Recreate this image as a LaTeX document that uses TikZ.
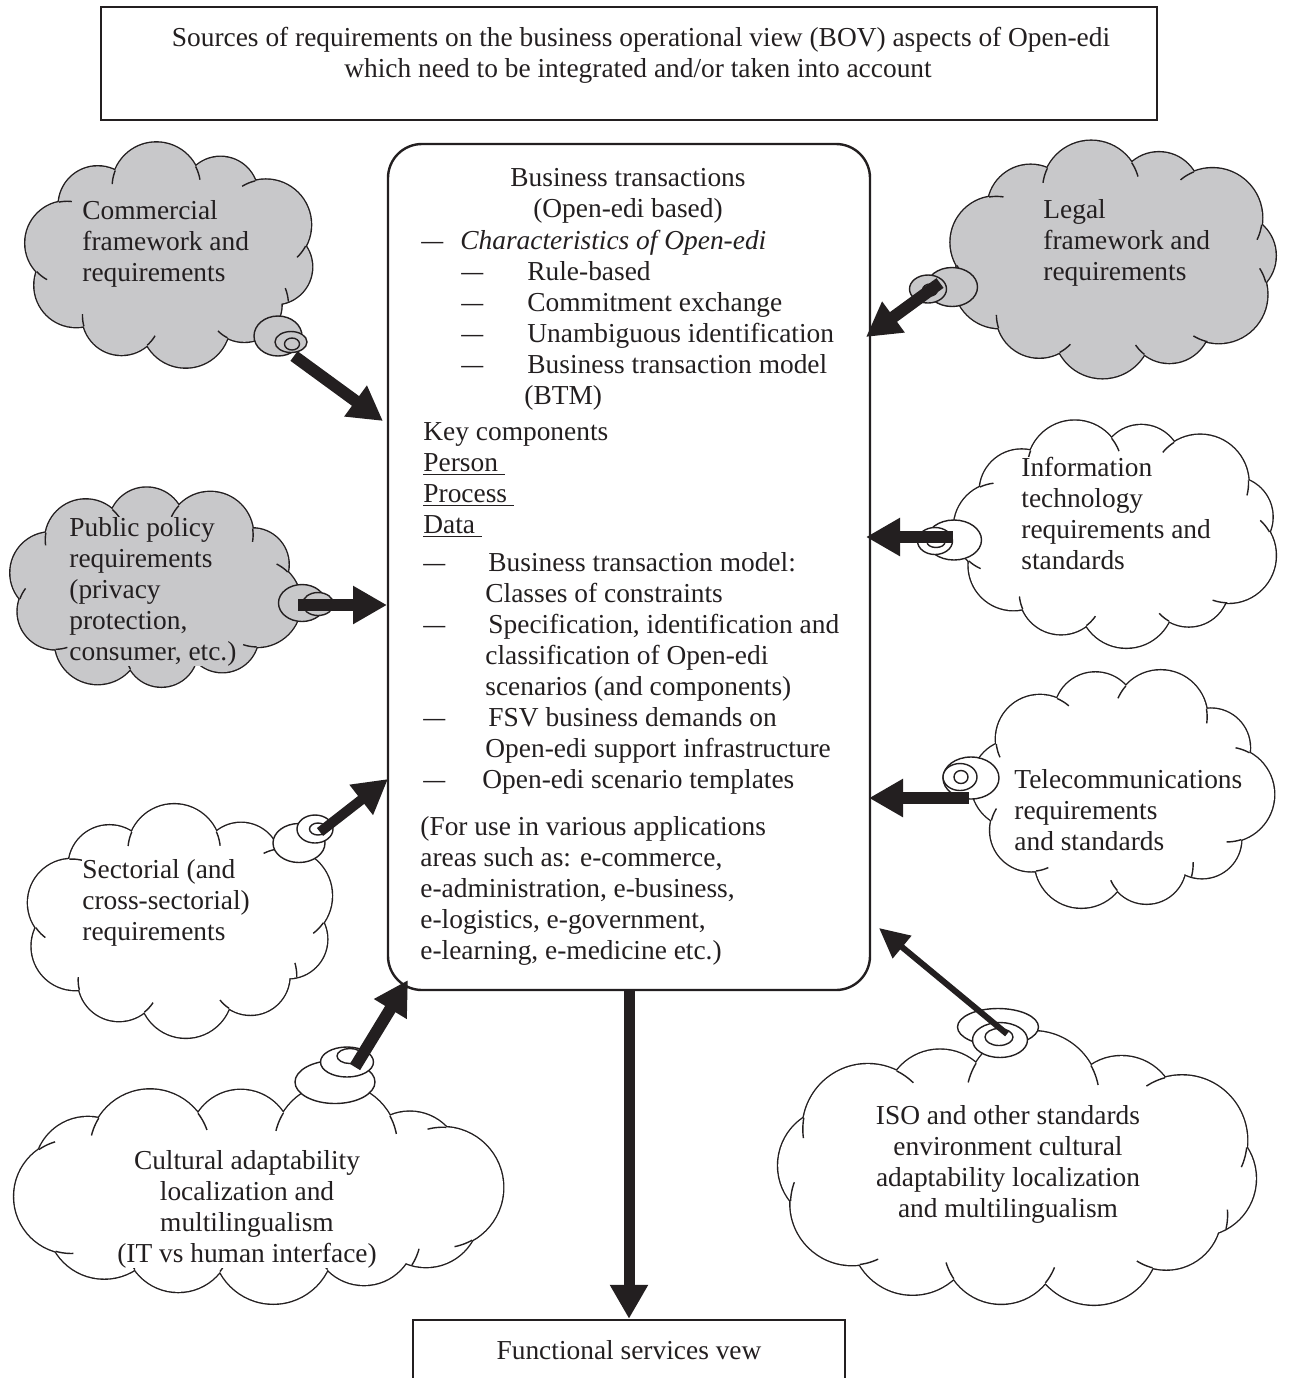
\documentclass[tikz,border=0pt]{standalone}
\usepackage{fontspec}
\setmainfont{Liberation Serif}
\usetikzlibrary{shapes.geometric,arrows.meta}
\definecolor{cloudgray}{RGB}{200,200,202}
\definecolor{ink}{RGB}{35,31,32}
\newcommand\myfs{\fontsize{13.7pt}{15.5pt}\selectfont}
\newcommand\dsh{\scalebox{0.8}[1]{—}}
% #1 cx, #2 cy, #3 w, #4 h, #5 fill, #6 N, #7 phase
\newcommand\puffcloud[7]{%
  \pgfmathsetmacro\pcr{0.16*(#3+#4)/2}%
  \pgfmathsetmacro\pca{#3/2-\pcr}%
  \pgfmathsetmacro\pcb{#4/2-\pcr}%
  \foreach \k in {1,...,#6}{%
    \pgfmathsetmacro\rk{\pcr*(1+0.1*cos(200*\k))}%
    \draw[ink,line width=1.4pt] ({#1+\pca*cos(#7+360*\k/#6)},{#2+\pcb*sin(#7+360*\k/#6)}) circle[radius=\rk];}%
  \foreach \k in {1,...,#6}{%
    \pgfmathsetmacro\rk{\pcr*(1+0.1*cos(200*\k))}%
    \fill[#5] ({#1+\pca*cos(#7+360*\k/#6)},{#2+\pcb*sin(#7+360*\k/#6)}) circle[radius=\rk];}%
  \fill[#5] (#1,#2) ellipse[x radius=\pca,y radius=\pcb];%
  % interior arc stubs at the puff junctions
  \foreach \k in {1,...,#6}{%
    \pgfmathsetmacro\xa{#1+\pca*cos(#7+360*\k/#6)}%
    \pgfmathsetmacro\ya{#2+\pcb*sin(#7+360*\k/#6)}%
    \pgfmathsetmacro\xb{#1+\pca*cos(#7+360*(\k+1)/#6)}%
    \pgfmathsetmacro\yb{#2+\pcb*sin(#7+360*(\k+1)/#6)}%
    \pgfmathsetmacro\ra{\pcr*(1+0.1*cos(200*\k))}%
    \pgfmathsetmacro\rb{\pcr*(1+0.1*cos(200*(\k+1)))}%
    \pgfmathsetmacro\dd{sqrt((\xb-\xa)^2+(\yb-\ya)^2)}%
    \pgfmathsetmacro\ph{atan2(\yb-\ya,\xb-\xa)}%
    \pgfmathtruncatemacro\odd{mod(\k,2)}%
    \ifnum\odd=1
      \pgfmathsetmacro\al{acos((\dd*\dd+\ra*\ra-\rb*\rb)/(2*\dd*\ra))}%
      \pgfmathsetmacro\sa{\ph-\al}%
      \pgfmathsetmacro\sb{\ph-\al+18}%
      \draw[ink,line width=0.7pt] plot[domain=\sa:\sb,samples=8,variable=\t] ({\xa+\ra*cos(\t)},{\ya+\ra*sin(\t)});
    \else
      \pgfmathsetmacro\al{acos((\dd*\dd+\rb*\rb-\ra*\ra)/(2*\dd*\rb))}%
      \pgfmathsetmacro\sa{\ph+180+\al}%
      \pgfmathsetmacro\sb{\ph+180+\al-18}%
      \draw[ink,line width=0.7pt] plot[domain=\sb:\sa,samples=8,variable=\t] ({\xb+\rb*cos(\t)},{\yb+\rb*sin(\t)});
    \fi}%
}
\begin{document}
\begin{tikzpicture}[x=0.5pt,y=-0.5pt,font=\myfs,
  txt/.style={inner sep=0pt,anchor=base west,text=ink},
  ctxt/.style={inner sep=0pt,anchor=base,text=ink},
  gtxt/.style={txt,fill=cloudgray},
  wtxt/.style={txt,fill=white},
  wctxt/.style={ctxt,fill=white},
  bubg/.style={ellipse,draw=ink,line width=0.7pt,inner sep=0pt,fill=cloudgray},
  bubw/.style={ellipse,draw=ink,line width=0.7pt,inner sep=0pt,fill=white},
  arr/.style={draw=ink,line width=6pt,-{Triangle[length=17pt,width=18pt]}},
  arrthin/.style={draw=ink,line width=3pt,-{Triangle[length=15pt,width=14pt]}},
  boxst/.style={draw=ink,line width=1.2pt,inner sep=0pt}]
\useasboundingbox (0,0) rectangle (1290,1378);

% top box
\node[boxst,minimum width=528pt,minimum height=56.5pt] (top) at (629,63.5) {};
\node[ctxt] (top1) at (641,46) {Sources of requirements on the business operational view (BOV) aspects of Open-edi};
\node[ctxt] (top2) at (638,77) {which need to be integrated and/or taken into account};

% clouds
\puffcloud{171}{255}{293}{220}{cloudgray}{10}{10}
\puffcloud{1114}{259}{332}{232}{cloudgray}{11}{30}
\puffcloud{154}{588}{292}{205}{cloudgray}{10}{50}
\puffcloud{1117}{532}{325}{225}{white}{11}{20}
\puffcloud{1121}{789}{298}{242}{white}{10}{40}
\puffcloud{180}{921}{310}{227}{white}{10}{15}
\puffcloud{257}{1192}{485}{215}{white}{12}{25}
\puffcloud{1017}{1172}{485}{270}{white}{12}{5}

% bubbles
\node[bubg,minimum width=24pt,minimum height=20pt] (bCom1) at (278,336) {};
\node[bubg,minimum width=16pt,minimum height=10.5pt] (bCom2) at (291,342) {};
\node[bubg,minimum width=7.5pt,minimum height=6pt] (bCom3) at (292,344) {};

\node[bubg,minimum width=25.5pt,minimum height=19.5pt] (bLeg1) at (952,287) {};
\node[bubg,minimum width=18.5pt,minimum height=14pt] (bLeg2) at (928,289) {};
\node[bubg,minimum width=7.5pt,minimum height=6pt] (bLeg3) at (930,290) {};

\node[bubg,minimum width=23.5pt,minimum height=18.5pt] (bPub1) at (302,603) {};
\node[bubg,minimum width=15.5pt,minimum height=11.5pt] (bPub2) at (318,604) {};

\node[bubw,minimum width=27.5pt,minimum height=20pt] (bIT1) at (954,540) {};
\node[bubw,minimum width=17.5pt,minimum height=13.5pt] (bIT2) at (935,541) {};
\node[bubw,minimum width=9pt,minimum height=5.5pt] (bIT3) at (936,542) {};

\node[bubw,minimum width=28pt,minimum height=21pt] (bTel1) at (971,778) {};
\node[bubw,minimum width=17pt,minimum height=13.5pt] (bTel2) at (960,777) {};
\node[bubw,minimum width=7pt,minimum height=6.5pt] (bTel3) at (961,777) {};

\node[bubw,minimum width=26pt,minimum height=19.5pt] (bSec1) at (299,843) {};
\node[bubw,minimum width=18pt,minimum height=14pt] (bSec2) at (315,829) {};
\node[bubw,minimum width=8.5pt,minimum height=6pt] (bSec3) at (318,829) {};

\node[bubw,minimum width=40pt,minimum height=21.5pt] (bCul1) at (335,1082) {};
\node[bubw,minimum width=26.5pt,minimum height=15pt] (bCul2) at (347,1062) {};
\node[bubw,minimum width=13pt,minimum height=7.5pt] (bCul3) at (350,1056) {};

\node[bubw,minimum width=40.5pt,minimum height=18.5pt] (bISO1) at (998,1027) {};
\node[bubw,minimum width=27.5pt,minimum height=17.5pt] (bISO2) at (1000,1040) {};
\node[bubw,minimum width=14pt,minimum height=8.5pt] (bISO3) at (999,1037) {};

% main box
\node[boxst,rounded corners=17pt,minimum width=241pt,minimum height=423pt,fill=white] (main) at (629,567) {};
% bottom box
\node[boxst,minimum width=216pt,minimum height=40pt] (fsv) at (629,1360) {};
\node[ctxt] (fsvt) at (629,1359) {Functional services vew};

% cloud texts
\foreach \s [count=\i] in {Commercial,framework and,requirements}
  \node[gtxt] (tCom\i) at (82,{188+31*\i}) {\s};
\foreach \s [count=\i] in {Legal,framework and,requirements}
  \node[gtxt] (tLeg\i) at (1043,{187+31*\i}) {\s};
\foreach \s [count=\i] in {{Public policy},{requirements},{(privacy},{protection,},{consumer, etc.)}}
  \node[gtxt] (tPub\i) at (69,{505+31*\i}) {\s};
\foreach \s [count=\i] in {Information,technology,requirements and,standards}
  \node[wtxt] (tIT\i) at (1021,{445+31*\i}) {\s};
\foreach \s [count=\i] in {Telecommunications,requirements,and standards}
  \node[wtxt] (tTel\i) at (1014,{757+31*\i}) {\s};
\foreach \s [count=\i] in {{Sectorial (and},{cross-sectorial)},{requirements}}
  \node[wtxt] (tSec\i) at (82,{847+31*\i}) {\s};
\foreach \s [count=\i] in {{Cultural adaptability},{localization and},{multilingualism},{(IT vs human interface)}}
  \node[wctxt] (tCul\i) at (247,{1138+31*\i}) {\s};
\foreach \s [count=\i] in {ISO and other standards,environment cultural,adaptability localization,and multilingualism}
  \node[wctxt] (tISO\i) at (1008,{1093+31*\i}) {\s};

% main box texts
\node[ctxt] (m1) at (628,186) {Business transactions};
\node[ctxt] (m2) at (628,217) {(Open-edi based)};
\node[txt] (d0) at (421,249) {\dsh};
\node[txt] (m3) at (460,249) {\itshape Characteristics of Open-edi};
\foreach \s [count=\i] in {Rule-based,Commitment exchange,Unambiguous identification,Business transaction model}{
  \node[txt] (dc\i) at (461,{249+31*\i}) {\dsh};
  \node[txt] (mc\i) at (527,{249+31*\i}) {\s};}
\node[txt] (m4) at (524,404) {(BTM)};
\node[txt] (m5) at (423,440) {Key components};
\node[txt] (m6) at (423,471) {\underline{Person\ }};
\node[txt] (m7) at (423,502) {\underline{Process\ }};
\node[txt] (m8) at (423,533) {\underline{Data\ }};
\node[txt] (d1) at (423,571) {\dsh};
\node[txt] (m9) at (488,571) {Business transaction model:};
\node[txt] (m10) at (485,602) {Classes of constraints};
\node[txt] (d2) at (423,633) {\dsh};
\node[txt] (m11) at (488,633) {Specification, identification and};
\node[txt] (m12) at (485,664) {classification of Open-edi};
\node[txt] (m13) at (485,695) {scenarios (and components)};
\node[txt] (d3) at (423,726) {\dsh};
\node[txt] (m14) at (488,726) {FSV business demands on};
\node[txt] (m15) at (485,757) {Open-edi support infrastructure};
\node[txt] (d4) at (423,788) {\dsh};
\node[txt] (m16) at (482,788) {Open-edi scenario templates};
\node[txt] (mf1) at (420,835) {(For use in various applications};
\node[txt] (mf2) at (420,866) {areas such as: e-commerce,};
\node[txt] (mf3) at (420,897) {e-administration, e-business,};
\node[txt] (mf4) at (420,928) {e-logistics, e-government,};
\node[txt] (mf5) at (420,959) {e-learning, e-medicine etc.)};

% arrow end points
\coordinate (sCom) at (294,356);  \coordinate (eCom) at (383,421);
\coordinate (sLeg) at (940,283);  \coordinate (eLeg) at (866,337);
\coordinate (sPub) at (298,605);  \coordinate (ePub) at (387,605);
\coordinate (sIT) at (953,537);   \coordinate (eIT) at (866,537);
\coordinate (sTel) at (969,798);  \coordinate (eTel) at (869,798);
\coordinate (sSec) at (320,832);  \coordinate (eSec) at (388,779);
\coordinate (sCul) at (355,1067); \coordinate (eCul) at (408,980);
\coordinate (sISO) at (1007,1034);\coordinate (eISO) at (879,928);

\draw[arr] (sCom) -- (eCom);
\draw[arr] (sLeg) -- (eLeg);
\draw[arr] (sPub) -- (ePub);
\draw[arr] (sIT) -- (eIT);
\draw[arr] (sTel) -- (eTel);
\draw[arr,line width=5pt] (sSec) -- (eSec);
\draw[arr] (sCul) -- (eCul);
\draw[arrthin] (sISO) -- (eISO);
\draw[arr,line width=5.5pt] (main.south) -- (fsv.north);
\end{tikzpicture}
\end{document}
